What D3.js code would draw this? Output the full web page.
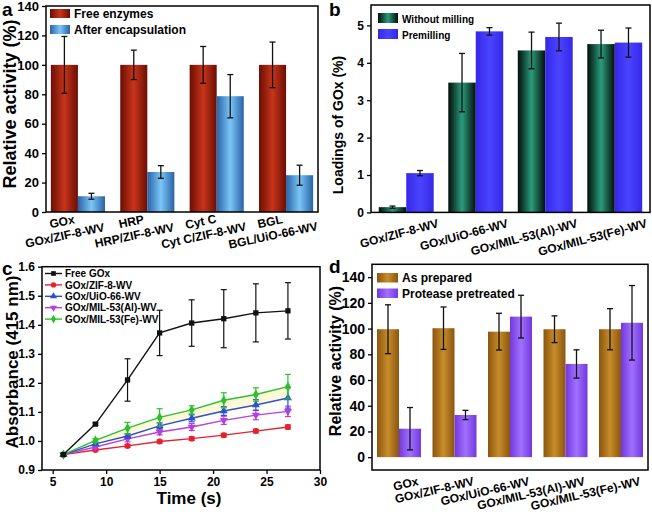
<!DOCTYPE html>
<html><head><meta charset="utf-8">
<script src="https://cdn.jsdelivr.net/npm/d3@7"></script>
<style>
body{margin:0;background:#fff;}
svg{display:block;}
</style></head><body>
<svg id="chart" width="652" height="520"></svg>
<script>
// ---------- DATA ----------
// panel a
const aGroups = ["GOx", "HRP", "Cyt C", "BGL"];
const aEncapNames = ["GOx/ZIF-8-WV", "HRP/ZIF-8-WV", "Cyt C/ZIF-8-WV", "BGL/UiO-66-WV"];
const aFree = [100, 100, 100, 100];
const aFreeErr = [19.3, 10, 12.5, 15.5];
const aEncap = [10.7, 27.2, 78.7, 25];
const aEncapErr = [2, 4.3, 14.7, 6.8];
const aTicks = [0, 20, 40, 60, 80, 100, 120, 140];
const aLegend = ["Free enzymes", "After encapsulation"];
// panel b
const bCategories = ["GOx/ZIF-8-WV", "GOx/UiO-66-WV", "GOx/MIL-53(Al)-WV", "GOx/MIL-53(Fe)-WV"];
const bWithout = [0.14, 3.47, 4.33, 4.5];
const bWithoutErr = [0.03, 0.78, 0.49, 0.37];
const bPremill = [1.05, 4.84, 4.69, 4.54];
const bPremillErr = [0.07, 0.1, 0.37, 0.39];
const bTicks = [0, 1, 2, 3, 4, 5];
const bLegend = ["Without milling", "Premilling"];
// panel c
const cTime = [6, 9, 12, 15, 18, 21, 24, 27];
const cFree = [0.953, 1.058, 1.21, 1.372, 1.406, 1.421, 1.441, 1.448];
const cFreeErr = [0.004, 0.004, 0.073, 0.078, 0.08, 0.1, 0.1, 0.097];
const cZif = [0.953, 0.969, 0.983, 0.998, 1.008, 1.02, 1.034, 1.048];
const cZifErr = [0.003, 0.004, 0.005, 0.005, 0.006, 0.006, 0.006, 0.007];
const cUio = [0.953, 0.99, 1.017, 1.052, 1.078, 1.103, 1.124, 1.148];
const cUioErr = [0.003, 0.005, 0.008, 0.01, 0.012, 0.015, 0.018, 0.035];
const cMilAl = [0.953, 0.979, 1.007, 1.031, 1.048, 1.071, 1.089, 1.102];
const cMilAlErr = [0.003, 0.005, 0.01, 0.01, 0.012, 0.014, 0.016, 0.018];
const cMilFe = [0.953, 1.002, 1.044, 1.081, 1.107, 1.14, 1.16, 1.187];
const cMilFeErr = [0.003, 0.006, 0.02, 0.03, 0.014, 0.026, 0.023, 0.042];
const cNames = ["Free GOx", "GOx/ZIF-8-WV", "GOx/UiO-66-WV", "GOx/MIL-53(Al)-WV", "GOx/MIL-53(Fe)-WV"];
const cYTicks = [0.9, 1.0, 1.1, 1.2, 1.3, 1.4, 1.5, 1.6];
const cXTicks = [5, 10, 15, 20, 25, 30];
// panel d
const dCategories = ["GOx", "GOx/ZIF-8-WV", "GOx/UiO-66-WV", "GOx/MIL-53(Al)-WV", "GOx/MIL-53(Fe)-WV"];
const dPrepared = [99.5, 100.3, 97.6, 99.5, 99.5];
const dPreparedErr = [19, 16.5, 14.3, 10.4, 16];
const dProtease = [22.1, 32.8, 109.3, 72.5, 104.5];
const dProteaseErr = [16.5, 3.6, 16.6, 11, 29];
const dTicks = [0, 20, 40, 60, 80, 100, 120, 140];
const dLegend = ["As prepared", "Protease pretreated"];

// ---------- SETUP ----------
const FONT = "'Liberation Sans', Arial, Helvetica, sans-serif";
const svg = d3.select("#chart").attr("font-family", FONT).attr("font-weight", "bold");
const defs = svg.append("defs");
function grad(id, edge, mid) {
  const lg = defs.append("linearGradient").attr("id", id)
    .attr("x1", 0).attr("x2", 1).attr("y1", 0).attr("y2", 0);
  lg.append("stop").attr("offset", "0%").attr("stop-color", edge);
  lg.append("stop").attr("offset", "50%").attr("stop-color", mid);
  lg.append("stop").attr("offset", "100%").attr("stop-color", edge);
  return `url(#${id})`;
}
const gRed = grad("gRed", "#6a0f04", "#c8341a");
const gBlue = grad("gBlue", "#2a62a8", "#7ac6f6");
const gGreen = grad("gGreen", "#040d09", "#2a9c7c");
const gPrem = grad("gPrem", "#3528e8", "#4a44ff");
const gBrown = grad("gBrown", "#8a5610", "#c88c2a");
const gViolet = grad("gViolet", "#7338dc", "#a070ff");

function styleAxis(ax, fs) {
  ax.attr("font-family", FONT).attr("font-size", fs).attr("font-weight", "bold");
  ax.select(".domain").remove();
  ax.selectAll("line").attr("stroke", "#000").attr("stroke-width", 1.3);
  ax.selectAll("text").attr("fill", "#000");
}
function frame(x0, y0, x1, y1) {
  svg.append("rect").attr("x", x0).attr("y", y0).attr("width", x1 - x0).attr("height", y1 - y0)
    .attr("fill", "none").attr("stroke", "#000").attr("stroke-width", 1.5);
}
function errBars(g, pts, cap) {
  const e = g.append("g").attr("stroke", "#111").attr("stroke-width", 1.3);
  e.selectAll(".v").data(pts).join("line").attr("x1", d => d.x).attr("x2", d => d.x)
    .attr("y1", d => d.yHi).attr("y2", d => d.yLo);
  e.selectAll(".t").data(pts).join("line").attr("x1", d => d.x - cap).attr("x2", d => d.x + cap)
    .attr("y1", d => d.yHi).attr("y2", d => d.yHi);
  e.selectAll(".b").data(pts).join("line").attr("x1", d => d.x - cap).attr("x2", d => d.x + cap)
    .attr("y1", d => d.yLo).attr("y2", d => d.yLo);
}
function barPanel(o) {
  const n = o.series[0].values.length;
  const x = d3.scaleBand().domain(d3.range(n)).range([o.x0, o.x1]).paddingInner(o.pIn).paddingOuter(o.pOut);
  const xs = d3.scaleBand().domain(d3.range(o.series.length)).range([0, x.bandwidth()]);
  const y = d3.scaleLinear().domain(o.yDomain).range([o.y1, o.y0]);
  const g = svg.append("g");
  o.series.forEach((s, si) => {
    g.append("g").selectAll("rect").data(s.values).join("rect")
      .attr("x", (d, i) => x(i) + xs(si)).attr("width", xs.bandwidth())
      .attr("y", d => y(d)).attr("height", d => y(0) - y(d)).attr("fill", s.fill);
  });
  o.series.forEach((s, si) => {
    errBars(g, s.values.map((v, i) => ({
      x: x(i) + xs(si) + xs.bandwidth() / 2, yHi: y(v + s.err[i]), yLo: y(v - s.err[i])
    })), o.cap);
  });
  const ax = svg.append("g").attr("transform", `translate(${o.x0},0)`)
    .call(d3.axisLeft(y).tickValues(o.ticks).tickSize(4).tickPadding(3).tickFormat(d3.format("d")));
  styleAxis(ax, o.tickFs);
  frame(o.x0, o.y0, o.x1, o.y1);
  o.legend.forEach((t, i) => {
    svg.append("rect").attr("x", o.lx).attr("y", o.ly + i * o.lstep).attr("width", o.lw).attr("height", o.lh)
      .attr("fill", o.series[i].fill);
    svg.append("text").attr("x", o.lx + o.lw + 4).attr("y", o.ly + i * o.lstep + o.lh - 0.5)
      .attr("font-size", o.lfs).attr("fill", "#000").text(t);
  });
  return { x, y };
}
function letter(t, x, y) {
  svg.append("text").attr("x", x).attr("y", y).attr("font-size", 19).attr("fill", "#000").text(t);
}
function yTitle(t, x, y, fs) {
  svg.append("text").attr("transform", `translate(${x},${y}) rotate(-90)`).attr("text-anchor", "middle")
    .attr("font-size", fs).attr("fill", "#000").text(t);
}

// ---------- PANEL A ----------
const A = barPanel({
  x0: 46, x1: 318, y0: 6, y1: 212, yDomain: [0, 140], ticks: aTicks, tickFs: 13,
  pIn: 0.22, pOut: 0.07, cap: 3,
  series: [{ values: aFree, err: aFreeErr, fill: gRed }, { values: aEncap, err: aEncapErr, fill: gBlue }],
  legend: aLegend, lx: 50, ly: 9, lstep: 16, lw: 20, lh: 9, lfs: 12
});
aGroups.forEach((gname, i) => {
  const cx = A.x(i) + A.x.bandwidth() / 2;
  const t = svg.append("text").attr("transform", `translate(${cx - 18},212) rotate(-12)`)
    .attr("text-anchor", "middle").attr("font-size", 12).attr("fill", "#000");
  t.append("tspan").attr("x", 0).attr("y", 14).text(gname);
  t.append("tspan").attr("x", 0).attr("y", 28).text(aEncapNames[i]);
});
yTitle("Relative activity (%)", 16, 104, 18);
letter("a", 2, 16);

// ---------- PANEL B ----------
const B = barPanel({
  x0: 371, x1: 650, y0: 5, y1: 212.4, yDomain: [0, 5.545], ticks: bTicks, tickFs: 12,
  pIn: 0.21, pOut: 0.112, cap: 3,
  series: [{ values: bWithout, err: bWithoutErr, fill: gGreen }, { values: bPremill, err: bPremillErr, fill: gPrem }],
  legend: bLegend, lx: 378, ly: 13, lstep: 16, lw: 20, lh: 10, lfs: 10
});
bCategories.forEach((c, i) => {
  const cx = B.x(i) + B.x.bandwidth() / 2;
  svg.append("text").attr("transform", `translate(${cx + 33},227) rotate(-15)`)
    .attr("text-anchor", "end").attr("font-size", 12).attr("fill", "#000").text(c);
});
yTitle("Loadings of GOx (%)", 343, 125, 14);
letter("b", 329, 16);

// ---------- PANEL C ----------
const cx0 = 42, cx1 = 320, cy0 = 266.7, cy1 = 470;
const X = d3.scaleLinear().domain([4, 30]).range([cx0, cx1]);
const Y = d3.scaleLinear().domain([0.9, 1.6]).range([cy1, cy0]);
const cSeries = [
  { name: cNames[0], v: cFree, e: cFreeErr, color: "#111", sym: d3.symbolSquare, rot: 0 },
  { name: cNames[1], v: cZif, e: cZifErr, color: "#e8202c", sym: d3.symbolCircle, rot: 0 },
  { name: cNames[2], v: cUio, e: cUioErr, color: "#2f4fd0", sym: d3.symbolTriangle, rot: 0 },
  { name: cNames[3], v: cMilAl, e: cMilAlErr, color: "#b63fe0", sym: d3.symbolTriangle, rot: 180 },
  { name: cNames[4], v: cMilFe, e: cMilFeErr, color: "#2cc02c", sym: d3.symbolDiamond, rot: 0 }
];
svg.append("path").datum(cTime.map((t, i) => ({ t, hi: cMilFe[i], lo: cUio[i] })))
  .attr("fill", "#fbf9d8").attr("d", d3.area().x(d => X(d.t)).y0(d => Y(d.lo)).y1(d => Y(d.hi)));
const cg = svg.append("g");
[1, 3, 2, 4, 0].forEach(k => {
  const s = cSeries[k];
  const pts = cTime.map((t, i) => ({ t, v: s.v[i], e: s.e[i] }));
  const eg = cg.append("g").attr("stroke", s.color).attr("stroke-width", 1.2);
  eg.selectAll(".v").data(pts).join("line").attr("x1", d => X(d.t)).attr("x2", d => X(d.t))
    .attr("y1", d => Y(d.v + d.e)).attr("y2", d => Y(d.v - d.e));
  eg.selectAll(".t").data(pts).join("line").attr("x1", d => X(d.t) - 3).attr("x2", d => X(d.t) + 3)
    .attr("y1", d => Y(d.v + d.e)).attr("y2", d => Y(d.v + d.e));
  eg.selectAll(".b").data(pts).join("line").attr("x1", d => X(d.t) - 3).attr("x2", d => X(d.t) + 3)
    .attr("y1", d => Y(d.v - d.e)).attr("y2", d => Y(d.v - d.e));
  cg.append("path").datum(pts).attr("fill", "none").attr("stroke", s.color).attr("stroke-width", 1.4)
    .attr("d", d3.line().x(d => X(d.t)).y(d => Y(d.v)));
  cg.append("g").selectAll("path").data(pts).join("path")
    .attr("transform", d => `translate(${X(d.t)},${Y(d.v)}) rotate(${s.rot})`)
    .attr("d", d3.symbol().type(s.sym).size(s.sym === d3.symbolDiamond ? 30 : 28)).attr("fill", s.color);
});
const cax = svg.append("g").attr("transform", `translate(${cx0},0)`)
  .call(d3.axisLeft(Y).tickValues(cYTicks).tickSize(4).tickPadding(3).tickFormat(d3.format(".1f")));
styleAxis(cax, 12);
const cbx = svg.append("g").attr("transform", `translate(0,${cy1})`)
  .call(d3.axisBottom(X).tickValues(cXTicks).tickSize(4).tickPadding(3).tickFormat(d3.format("d")));
styleAxis(cbx, 12);
frame(cx0, cy0, cx1, cy1);
cSeries.forEach((s, i) => {
  const yy = 273.5 + i * 11.4;
  svg.append("line").attr("x1", 45).attr("x2", 62).attr("y1", yy).attr("y2", yy)
    .attr("stroke", s.color).attr("stroke-width", 1.4);
  svg.append("path").attr("transform", `translate(53.5,${yy}) rotate(${s.rot})`)
    .attr("d", d3.symbol().type(s.sym).size(22)).attr("fill", s.color);
  svg.append("text").attr("x", 65).attr("y", yy + 3.6).attr("font-size", 10).attr("fill", "#000").text(s.name);
});
yTitle("Absorbance (415 nm)", 18, 362, 17);
svg.append("text").attr("x", 189).attr("y", 504).attr("text-anchor", "middle").attr("font-size", 17)
  .attr("fill", "#000").text("Time (s)");
letter("c", 2, 275);

// ---------- PANEL D ----------
const D = barPanel({
  x0: 372, x1: 648, y0: 264.3, y1: 470, yDomain: [-10, 150], ticks: dTicks, tickFs: 14,
  pIn: 0.207, pOut: 0.09, cap: 3,
  series: [{ values: dPrepared, err: dPreparedErr, fill: gBrown }, { values: dProtease, err: dProteaseErr, fill: gViolet }],
  legend: dLegend, lx: 377, ly: 273, lstep: 15.5, lw: 21, lh: 9.5, lfs: 12
});
dCategories.forEach((c, i) => {
  const cx = D.x(i) + D.x.bandwidth() / 2;
  svg.append("text").attr("transform", `translate(${cx + 20},485) rotate(-13)`)
    .attr("text-anchor", "end").attr("font-size", 12).attr("fill", "#000").text(c);
});
yTitle("Relative activity (%)", 341, 361, 16);
letter("d", 329, 273);
</script>
</body></html>
